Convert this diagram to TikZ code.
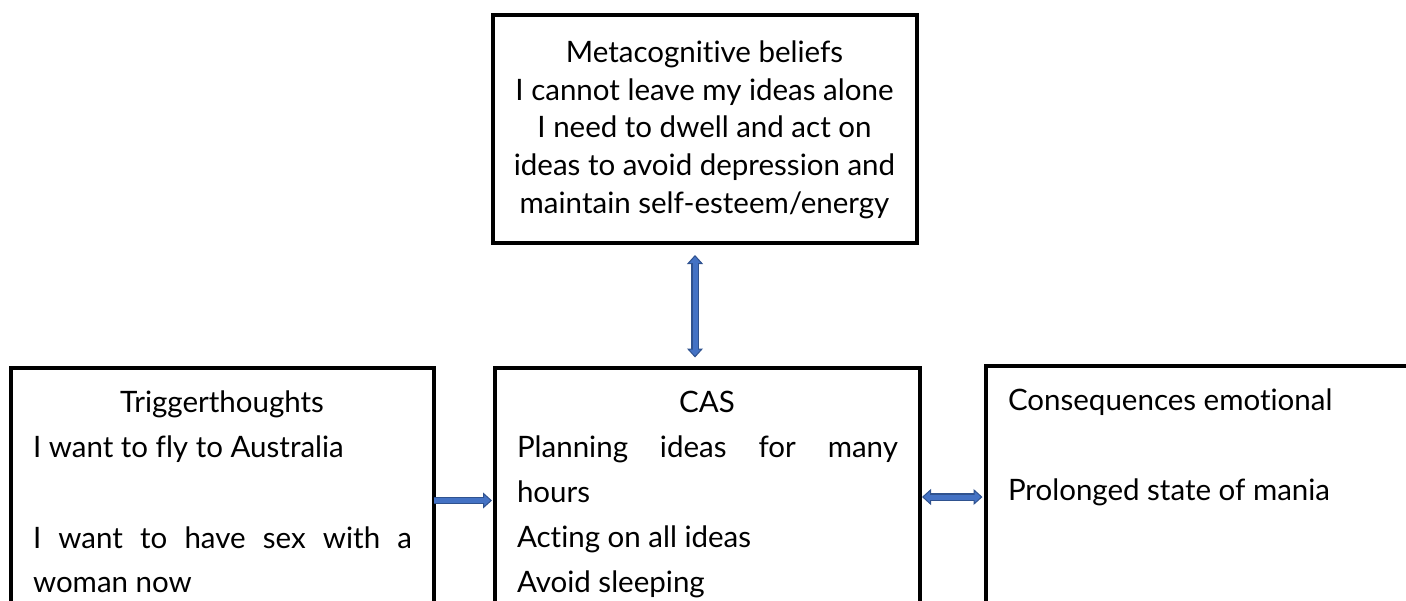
\documentclass[tikz,border=0pt]{standalone}
\usepackage{fontspec}
\setmainfont[Ligatures=NoCommon]{Lato}
\usetikzlibrary{arrows.meta}
\definecolor{arrfill}{HTML}{4472C4}
\definecolor{arrline}{HTML}{2F528F}
\tikzset{
  cbox/.style={draw=black, line width=4pt, rectangle, inner sep=0pt, outer sep=0pt, anchor=north west},
  txt/.style={inner sep=0pt, outer sep=0pt, anchor=base, font=\fontsize{29.5}{34}\selectfont},
  txtl/.style={txt, anchor=base west},
  tipA/.style={-{Triangle[length=9pt,width=16pt,line width=1pt,fill=arrfill]}},
  tipAA/.style={{Triangle[length=9pt,width=16pt,line width=1pt,fill=arrfill]}-{Triangle[length=9pt,width=16pt,line width=1pt,fill=arrfill]}},
  outerarrow/.style={line width=7.5pt, draw=arrline},
  innerarrow/.style={line width=5pt, draw=arrfill},
}
\begin{document}
\begin{tikzpicture}[x=1pt,y=-1pt]
\useasboundingbox (0,0) rectangle (1406,600);
\clip (0,0) rectangle (1406,600);
% boxes
\node[cbox, minimum width=424pt, minimum height=228pt] (meta) at (492.5,15) {};
\node[cbox, minimum width=422.5pt, minimum height=300pt] (trig) at (11,367.5) {};
\node[cbox, minimum width=425.5pt, minimum height=300pt] (cas) at (494.5,367.5) {};
\node[cbox, minimum width=500pt, minimum height=300pt] (cons) at (985.5,366) {};
% texts: metacognitive beliefs
\node[txt] (m0) at (704.5,62) {Metacognitive beliefs};
\node[txt] (m1) at (704.5,100) {I cannot leave my ideas alone};
\node[txt] (m2) at (704.5,137) {I need to dwell and act on};
\node[txt] (m3) at (704.5,175) {ideas to avoid depression and};
\node[txt] (m4) at (704.5,213) {maintain self-esteem/energy};
% trigger thoughts
\node[txt] (t0) at (222,412) {Triggerthoughts};
\node[txtl] (t1) at (33,457) {I want to fly to Australia};
\node[txtl] (t2) at (33,548) {\makebox[379pt][s]{I want to have sex with a}};
\node[txtl] (t3) at (33,592) {woman now};
% CAS
\node[txt] (c0) at (707,412) {CAS};
\node[txtl] (c1) at (517,457) {\makebox[381pt][s]{Planning ideas for many}};
\node[txtl] (c2) at (517,502) {hours};
\node[txtl] (c3) at (517,547) {Acting on all ideas};
\node[txtl] (c4) at (517,592) {Avoid sleeping};
% consequences
\node[txtl] (e0) at (1008,410) {Consequences emotional};
\node[txtl] (e1) at (1008,500) {Prolonged state of mania};
% arrow helper coordinates
\coordinate (yL) at (0,500.5);
\coordinate (yR) at (0,497);
\coordinate (xV) at (695,0);
% left arrow
\draw[outerarrow, tipA, shorten >=2.5pt] (trig.east |- yL) -- (cas.west |- yL);
\draw[innerarrow, shorten >=10pt] (trig.east |- yL) -- (cas.west |- yL);
% right double arrow
\draw[outerarrow, tipAA, shorten <=2pt, shorten >=3pt] (cas.east |- yR) -- (cons.west |- yR);
\draw[innerarrow, shorten <=9.5pt, shorten >=10.5pt] (cas.east |- yR) -- (cons.west |- yR);
% vertical double arrow
\draw[outerarrow, tipAA, shorten <=12pt, shorten >=10pt] (meta.south -| xV) -- (cas.north -| xV);
\draw[innerarrow, shorten <=19.5pt, shorten >=17.5pt] (meta.south -| xV) -- (cas.north -| xV);
\end{tikzpicture}
\end{document}
